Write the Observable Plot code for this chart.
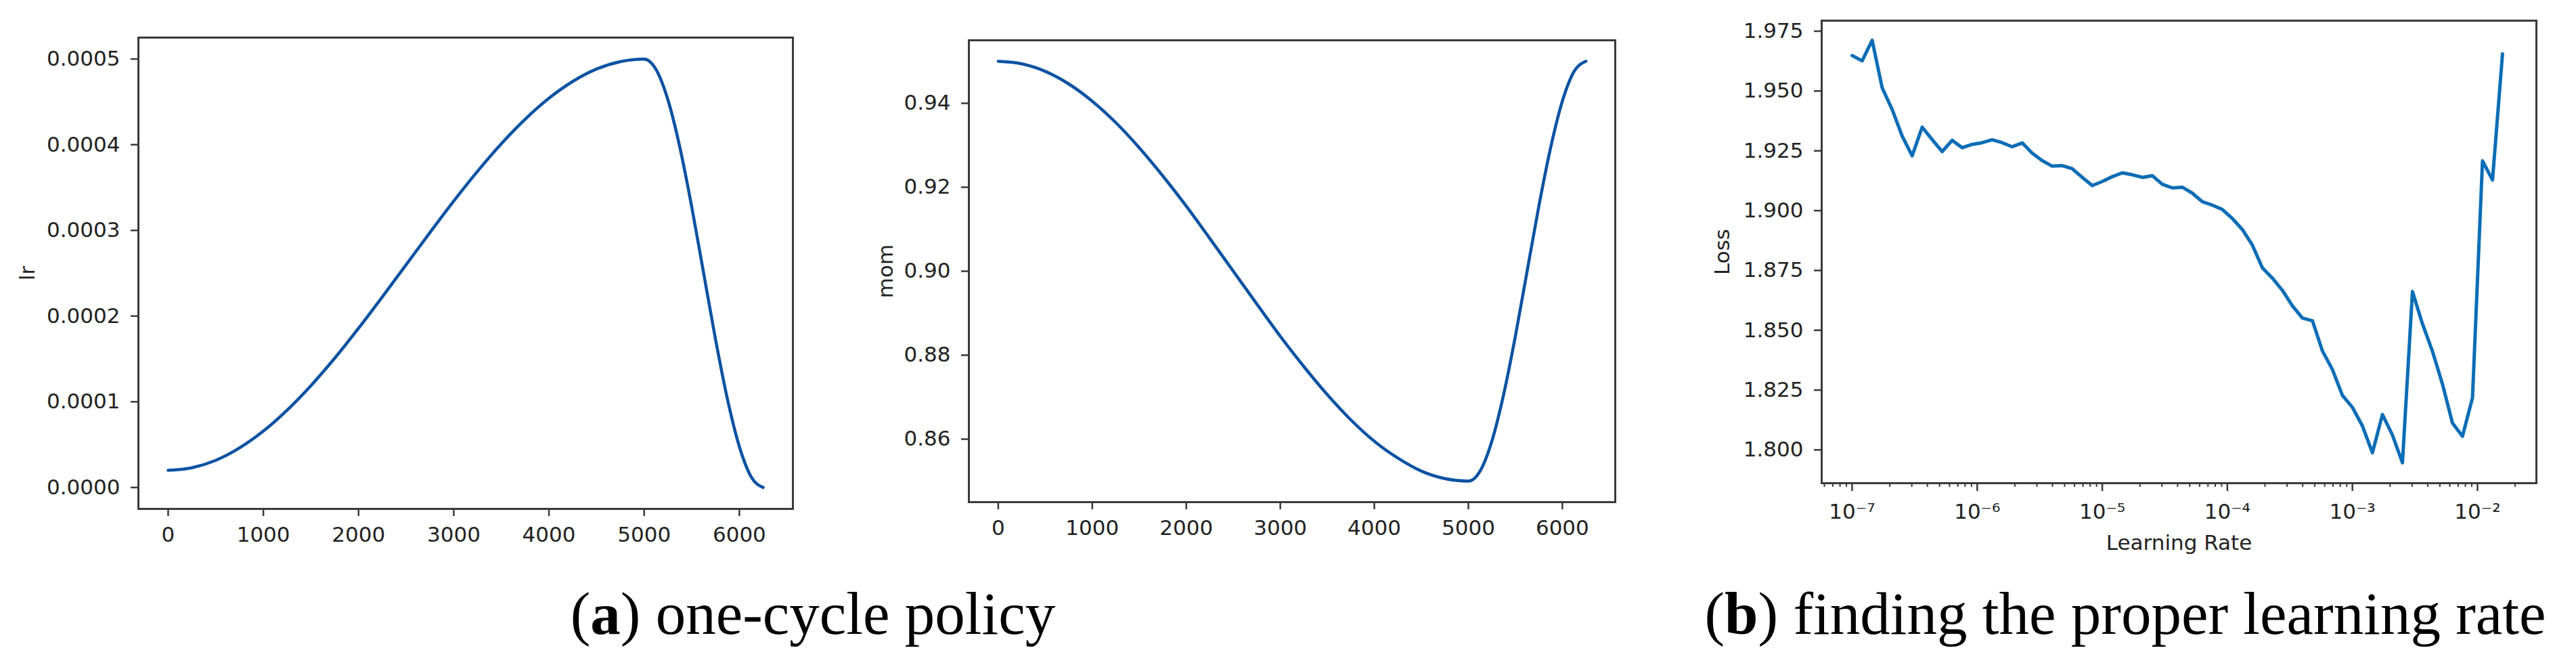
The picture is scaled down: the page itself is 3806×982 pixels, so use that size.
<!DOCTYPE html>
<html><head><meta charset="utf-8">
<script src="https://cdn.jsdelivr.net/npm/d3@7"></script>
<script src="https://cdn.jsdelivr.net/npm/@observablehq/plot@0.6"></script>
<style>
html,body{margin:0;padding:0;background:#fff;}
#root{position:relative;width:3806px;height:982px;overflow:hidden;background:#fff;}
.panel{position:absolute;top:0;}
.cap{position:absolute;font-family:"Liberation Serif","Times New Roman",serif;font-size:89px;line-height:89px;color:#000;white-space:nowrap;transform:translateX(-50%);top:862px;}
</style></head><body><div id="root"></div>
<script>
// ---- data ----
const iterations = [0,250,500,750,1000,1250,1500,1750,2000,2250,2500,2750,3000,3250,3500,3750,4000,4250,4500,4750,5000,5125,5250,5375,5500,5625,5750,5875,6000,6125,6250];
const lrValues = [0.0000200,0.0000230,0.0000317,0.0000462,0.0000658,0.0000903,0.0001189,0.0001510,0.0001858,0.0002225,0.0002600,0.0002975,0.0003342,0.0003690,0.0004011,0.0004297,0.0004542,0.0004738,0.0004883,0.0004970,0.0005000,0.0004878,0.0004523,0.0003970,0.0003273,0.0002500,0.0001727,0.0001030,0.0000477,0.0000122,0.0000000];
const momValues = [0.9500,0.9494,0.9476,0.9446,0.9405,0.9354,0.9294,0.9227,0.9155,0.9078,0.9000,0.8922,0.8845,0.8773,0.8706,0.8646,0.8595,0.8555,0.8524,0.8506,0.8500,0.8524,0.8595,0.8706,0.8845,0.9000,0.9155,0.9294,0.9405,0.9476,0.9500];

const lrExponents = [-7.00,-6.92,-6.84,-6.76,-6.68,-6.60,-6.52,-6.44,-6.36,-6.28,-6.20,-6.12,-6.04,-5.96,-5.88,-5.80,-5.72,-5.64,-5.56,-5.48,-5.40,-5.32,-5.24,-5.16,-5.08,-5.00,-4.92,-4.84,-4.76,-4.68,-4.60,-4.52,-4.44,-4.36,-4.28,-4.20,-4.12,-4.04,-3.96,-3.88,-3.80,-3.72,-3.64,-3.56,-3.48,-3.40,-3.32,-3.24,-3.16,-3.08,-3.00,-2.92,-2.84,-2.76,-2.68,-2.60,-2.52,-2.44,-2.36,-2.28,-2.20,-2.12,-2.04,-1.96,-1.88,-1.80];
const lossValues = [1.9648,1.9626,1.9712,1.9514,1.9423,1.9312,1.9229,1.9349,1.9297,1.9247,1.9294,1.9263,1.9277,1.9284,1.9296,1.9284,1.9267,1.9283,1.9240,1.9209,1.9186,1.9188,1.9175,1.9139,1.9105,1.9122,1.9142,1.9158,1.9150,1.9139,1.9146,1.9110,1.9095,1.9098,1.9073,1.9037,1.9023,1.9005,1.8967,1.8921,1.8856,1.8761,1.8718,1.8667,1.8602,1.8551,1.8540,1.8414,1.8336,1.8228,1.8178,1.8100,1.7988,1.8148,1.8062,1.7946,1.8662,1.8527,1.8412,1.8275,1.8112,1.8057,1.8218,1.9208,1.9128,1.9655];

const iterTicks = [0,1000,2000,3000,4000,5000,6000];
const lrTicks = [0,0.0001,0.0002,0.0003,0.0004,0.0005];
const lrTickLabels = ["0.0000","0.0001","0.0002","0.0003","0.0004","0.0005"];
const momTicks = [0.86,0.88,0.90,0.92,0.94];
const momTickLabels = ["0.86","0.88","0.90","0.92","0.94"];
const lossTicks = [1.800,1.825,1.850,1.875,1.900,1.925,1.950,1.975];
const lossTickLabels = ["1.800","1.825","1.850","1.875","1.900","1.925","1.950","1.975"];
const decadeTicks = [1e-7,1e-6,1e-5,1e-4,1e-3,1e-2];
const decadeTickLabels = ["10\u207B\u2077","10\u207B\u2076","10\u207B\u2075","10\u207B\u2074","10\u207B\u00B3","10\u207B\u00B2"];
const minorMantissas = [2,3,4,5,6,7,8,9];
const minorDecades = [-8,-7,-6,-5,-4,-3,-2];

const captionA = ["a", " one-cycle policy"];
const captionB = ["b", " finding the proper learning rate"];

// ---- tables ----
const cycleRows = iterations.map((it, i) => ({it, lr: lrValues[i], mom: momValues[i]}));
const findRows = lrExponents.map((e, i) => ({lr: Math.pow(10, e), loss: lossValues[i]}));
const logDomain = [Math.pow(10, -7.2435), Math.pow(10, -1.529)];
const minorTicks = [];
for (const d of minorDecades) for (const m of minorMantissas) {
  const v = m * Math.pow(10, d);
  if (v >= logDomain[0] && v <= logDomain[1]) minorTicks.push(v);
}
const labelOf = (ticks, labels) => d => { const i = ticks.findIndex(t => Math.abs(t - d) <= Math.abs(d) * 1e-6 + 1e-12); return i >= 0 ? labels[i] : ""; };

const axisStyle = {fontFamily: "'DejaVu Sans', sans-serif", fontSize: "31px", color: "#222", background: "transparent", overflow: "visible", maxWidth: "none"};
const frameColor = "#3a3a3a";

const p1 = Plot.plot({
  width: 1200, height: 830,
  marginLeft: 204, marginRight: 29, marginTop: 55, marginBottom: 79,
  style: axisStyle,
  x: {domain: [-312.5, 6562.5]},
  y: {domain: [-0.000025, 0.000525]},
  marks: [
    Plot.axisX({ticks: iterTicks, tickFormat: d => String(d), tickSize: 11, tickPadding: 15, strokeWidth: 2.5, stroke: frameColor, label: null}),
    Plot.axisY({ticks: lrTicks, tickFormat: labelOf(lrTicks, lrTickLabels), tickSize: 11, tickPadding: 16, strokeWidth: 2.5, stroke: frameColor, label: "lr", labelAnchor: "center", labelArrow: "none", labelOffset: 176}),
    Plot.lineY(cycleRows, {x: "it", y: "lr", stroke: "#0b52a2", strokeWidth: 4.5, curve: "monotone-x"}),
    Plot.frame({stroke: frameColor, strokeWidth: 3})
  ]
});

const p2 = Plot.plot({
  width: 1220, height: 830,
  marginLeft: 231, marginRight: 34, marginTop: 59, marginBottom: 89,
  style: axisStyle,
  x: {domain: [-312.5, 6562.5]},
  y: {domain: [0.845, 0.955]},
  marks: [
    Plot.axisX({ticks: iterTicks, tickFormat: d => String(d), tickSize: 11, tickPadding: 15, strokeWidth: 2.5, stroke: frameColor, label: null}),
    Plot.axisY({ticks: momTicks, tickFormat: labelOf(momTicks, momTickLabels), tickSize: 11, tickPadding: 16, strokeWidth: 2.5, stroke: frameColor, label: "mom", labelAnchor: "center", labelArrow: "none", labelOffset: 135}),
    Plot.lineY(cycleRows, {x: "it", y: "mom", stroke: "#0b52a2", strokeWidth: 4.5, curve: "monotone-x"}),
    Plot.frame({stroke: frameColor, strokeWidth: 3})
  ]
});

const p3 = Plot.plot({
  width: 1386, height: 830,
  marginLeft: 271, marginRight: 59, marginTop: 30, marginBottom: 117,
  style: axisStyle,
  x: {type: "log", domain: logDomain},
  y: {domain: [1.7861, 1.9794]},
  marks: [
    Plot.axisX({ticks: minorTicks, tickFormat: () => "", tickSize: 6, strokeWidth: 2, stroke: frameColor, label: null}),
    Plot.axisX({ticks: decadeTicks, tickFormat: labelOf(decadeTicks, decadeTickLabels), tickSize: 12, tickPadding: 18, strokeWidth: 2.5, stroke: frameColor, label: "Learning Rate", labelAnchor: "center", labelArrow: "none", labelOffset: 98}),
    Plot.axisY({ticks: lossTicks, tickFormat: labelOf(lossTicks, lossTickLabels), tickSize: 11, tickPadding: 16, strokeWidth: 2.5, stroke: frameColor, label: "Loss", labelAnchor: "center", labelArrow: "none", labelOffset: 159}),
    Plot.line(findRows, {x: "lr", y: "loss", stroke: "#0b6db6", strokeWidth: 5}),
    Plot.frame({stroke: frameColor, strokeWidth: 3})
  ]
});

const root = document.getElementById("root");
[[p1, 0], [p2, 1200], [p3, 2420]].forEach(([svg, left]) => {
  const div = document.createElement("div");
  div.className = "panel";
  div.style.left = left + "px";
  div.appendChild(svg);
  root.appendChild(div);
});
function caption(parts, centerX) {
  const div = document.createElement("div");
  div.className = "cap";
  div.style.left = centerX + "px";
  div.append("(");
  const b = document.createElement("b"); b.textContent = parts[0]; div.appendChild(b);
  div.append(")" + parts[1]);
  root.appendChild(div);
}
caption(captionA, 1201);
caption(captionB, 3140);
</script></body></html>
